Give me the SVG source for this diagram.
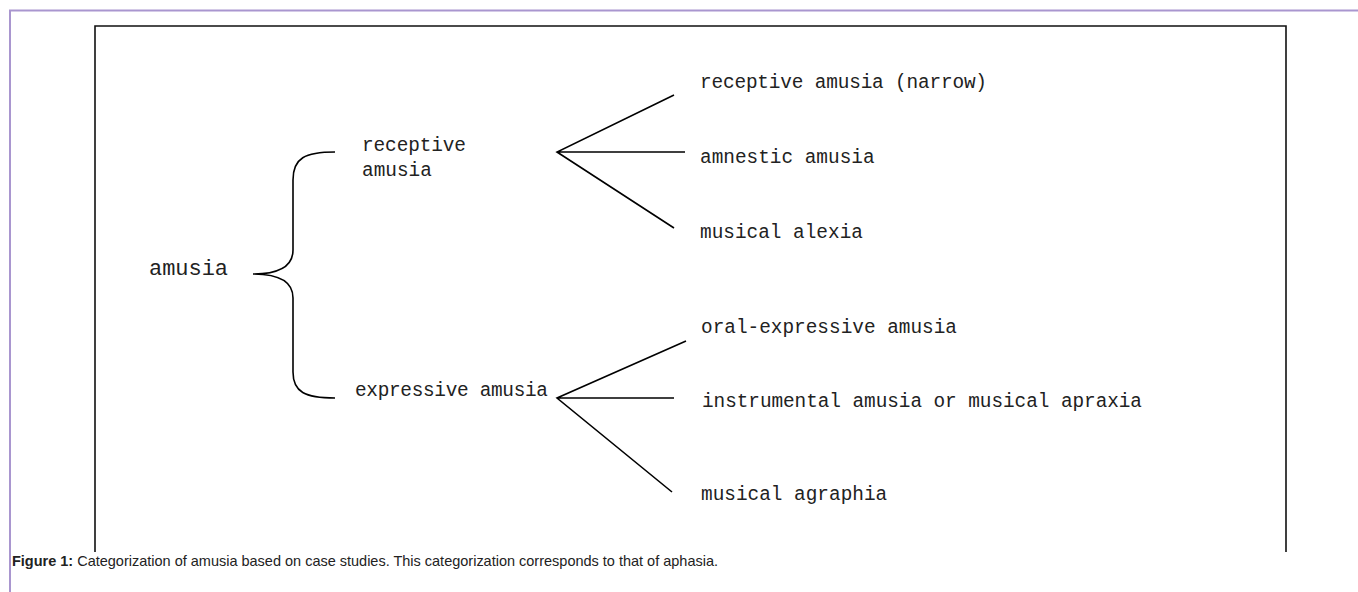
<svg xmlns="http://www.w3.org/2000/svg" width="1358" height="592" viewBox="0 0 1358 592">
<style>
.lbl{font-family:"Liberation Mono","DejaVu Sans Mono",monospace;font-size:19.4px;fill:#222}
.big{font-size:22px}
.ln{stroke:#000;stroke-width:1.6;fill:none}
.cap{font-family:"Liberation Sans",Arial,sans-serif;font-size:14.5px;fill:#222}
</style>
<rect width="1358" height="592" fill="#fff"/>
<g id="frame">
<path d="M10,592 V10.5 H1358" fill="none" stroke="#a996cf" stroke-width="2"/>
<path d="M95,552 V26 H1286 V552" fill="none" stroke="#111" stroke-width="1.6"/>
</g>
<g id="connectors">
<path class="ln" d="M335,152 C305,152 293,158 293,180 L293,250 C293,268 275,274 253,274 C275,274 293,280 293,298 L293,372 C293,392 305,398 335,398"/>
<path class="ln" d="M674,95 L557,152 L674,228 M557,152 H685"/>
<path class="ln" d="M686,341 L557,398 L672,492 M557,398 H674"/>
</g>
<g id="n-amusia"><text class="lbl big" x="149" y="275" textLength="79">amusia</text></g>
<g id="n-receptive"><text class="lbl" x="362" y="151" textLength="104">receptive</text><text class="lbl" x="362" y="176">amusia</text></g>
<g id="n-expressive"><text class="lbl" x="355" y="396" textLength="193">expressive amusia</text></g>
<g id="n-narrow"><text class="lbl" x="700" y="88" textLength="287">receptive amusia (narrow)</text></g>
<g id="n-amnestic"><text class="lbl" x="700" y="163">amnestic amusia</text></g>
<g id="n-alexia"><text class="lbl" x="700" y="238">musical alexia</text></g>
<g id="n-oral"><text class="lbl" x="701" y="333">oral-expressive amusia</text></g>
<g id="n-instrumental"><text class="lbl" x="702" y="407" textLength="440">instrumental amusia or musical apraxia</text></g>
<g id="n-agraphia"><text class="lbl" x="701" y="500">musical agraphia</text></g>
<g id="caption"><text class="cap" x="12" y="566" textLength="706"><tspan font-weight="bold">Figure 1:</tspan> Categorization of amusia based on case studies. This categorization corresponds to that of aphasia.</text></g>
</svg>
